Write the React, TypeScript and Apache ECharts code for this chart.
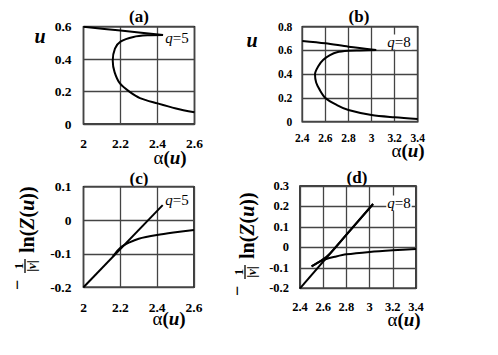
import React, { useEffect, useRef } from "react";
import * as echarts from "echarts";

// Panel (a): u vs alpha(u), q=5
const aUpper: number[][] = [[2.0, 0.6], [2.2, 0.576], [2.43, 0.549]];
const aLower: number[][] = [
  [2.43, 0.549], [2.35, 0.547], [2.27, 0.537], [2.2, 0.508], [2.17, 0.465],
  [2.158, 0.39], [2.168, 0.32], [2.197, 0.25], [2.25, 0.198], [2.305, 0.16],
  [2.4, 0.127], [2.5, 0.096], [2.6, 0.072],
];
// Panel (b): u vs alpha(u), q=8
const bUpper: number[][] = [[2.4, 0.68], [2.6, 0.66], [2.8, 0.632], [3.04, 0.604]];
const bLower: number[][] = [
  [3.04, 0.604], [2.9, 0.6], [2.8, 0.597], [2.7, 0.585], [2.64, 0.56],
  [2.58, 0.52], [2.54, 0.47], [2.51, 0.4], [2.52, 0.33], [2.55, 0.27],
  [2.6, 0.2], [2.7, 0.14], [2.8, 0.098], [3.0, 0.056], [3.2, 0.037], [3.4, 0.023],
];
// Panel (c): -(1/|v|) ln Z(u) vs alpha(u), q=5
const cLine: number[][] = [[2.0, -0.2], [2.43, 0.045]];
const cCurve: number[][] = [
  [2.16, -0.108], [2.2, -0.082], [2.25, -0.066], [2.3, -0.055],
  [2.4, -0.044], [2.5, -0.036], [2.6, -0.029],
];
// Panel (d): q=8
const dLine: number[][] = [[2.4, -0.2], [3.03, 0.212]];
const dReturn: number[][] = [[3.03, 0.212], [2.8, 0.062], [2.65, -0.035], [2.58, -0.066], [2.5, -0.093]];
const dCurve: number[][] = [
  [2.5, -0.093], [2.56, -0.072], [2.62, -0.058], [2.7, -0.046], [2.8, -0.034],
  [3.0, -0.022], [3.2, -0.014], [3.4, -0.008],
];

// Axis ranges [min, max, interval]
const xRanges = [[2, 2.6, 0.2], [2.4, 3.4, 0.2], [2, 2.6, 0.2], [2.4, 3.4, 0.2]];
const yRanges = [[0, 0.6, 0.2], [0, 0.8, 0.2], [-0.2, 0.1, 0.1], [-0.2, 0.3, 0.1]];
const panelTitles = ["(a)", "(b)", "(c)", "(d)"];
const qLabels = ["5", "8", "5", "8"];

const SERIF = "'Liberation Serif', 'Times New Roman', serif";

export default function App() {
  const ref = useRef<HTMLDivElement>(null);
  useEffect(() => {
    if (!ref.current) return;
    const chart = echarts.init(ref.current, undefined, { renderer: "svg" });

    const grids = [
      { left: 83.5, top: 26.7, width: 111, height: 97.3 },
      { left: 302.3, top: 26.7, width: 115.4, height: 95 },
      { left: 83.5, top: 186.7, width: 110.5, height: 100.6 },
      { left: 300, top: 186, width: 116, height: 102.3 },
    ];
    const labelFont = [13.5, 11.5, 13.5, 12.5];
    const xMargins = [12, 10, 13, 12];
    const yMargins = [12, 10, 12, 11];

    const xAxis = xRanges.map((r, i) => ({
      type: "value", gridIndex: i, min: r[0], max: r[1], interval: r[2],
      axisLine: { show: false }, axisTick: { show: false },
      splitLine: { show: true, lineStyle: { color: "#444", width: 1.3 } },
      axisLabel: { color: "#000", fontFamily: SERIF, fontWeight: "bold", fontSize: labelFont[i], margin: xMargins[i], showMinLabel: true, showMaxLabel: true },
    }));
    const yAxis = yRanges.map((r, i) => ({
      type: "value", gridIndex: i, min: r[0], max: r[1], interval: r[2],
      axisLine: { show: false }, axisTick: { show: false },
      splitLine: { show: true, lineStyle: { color: "#444", width: 1.3 } },
      axisLabel: { color: "#000", fontFamily: SERIF, fontWeight: "bold", fontSize: labelFont[i], margin: yMargins[i], showMinLabel: true, showMaxLabel: true },
    }));

    const mk = (data: number[][], idx: number) => ({
      type: "line", xAxisIndex: idx, yAxisIndex: idx, data,
      symbol: "none", showSymbol: false, smooth: 0.3,
      lineStyle: { color: "#000", width: 2 },
    });
    const series = [
      mk(aUpper, 0), mk(aLower, 0),
      mk(bUpper, 1), mk(bLower, 1),
      { ...mk(cLine, 2), smooth: false }, mk(cCurve, 2),
      { ...mk(dLine, 3), smooth: false }, mk(dReturn, 3), mk(dCurve, 3),
    ];

    const titlePos = [[139, 16], [359, 16], [139, 178], [357, 177]];
    const alphaPos = [[170, 157], [408, 150], [169, 318], [404, 319]];
    const qPos = [[177, 38], [399, 42], [177, 200], [399, 203]];
    const uPos = [[40, 36], [252, 40]];
    const fracPos = [[25, 236], [245, 242]];

    const graphic: any[] = [];
    titlePos.forEach((p, i) => graphic.push({
      type: "text", x: p[0], y: p[1],
      style: { text: panelTitles[i], fontFamily: SERIF, fontWeight: "bold", fontSize: 17, fill: "#000", textAlign: "center", textVerticalAlign: "middle" },
    }));
    alphaPos.forEach((p) => graphic.push({
      type: "text", x: p[0], y: p[1],
      style: {
        text: "{a|α}{b|(}{i|u}{b|)}", textAlign: "center", textVerticalAlign: "middle", fill: "#000",
        rich: {
          a: { fontFamily: SERIF, fontSize: 19, fill: "#000" },
          b: { fontFamily: SERIF, fontSize: 19, fontWeight: "bold", fill: "#000" },
          i: { fontFamily: SERIF, fontSize: 19, fontWeight: "bold", fontStyle: "italic", fill: "#000" },
        },
      },
    }));
    qPos.forEach((p, i) => graphic.push({
      type: "text", x: p[0], y: p[1], z: 100,
      style: {
        text: "{i|q}{r|=" + qLabels[i] + "}", textAlign: "center", textVerticalAlign: "middle",
        backgroundColor: "#fff", padding: [0, 1], fill: "#000",
        rich: {
          i: { fontFamily: SERIF, fontSize: 15, fontStyle: "italic", fill: "#000" },
          r: { fontFamily: SERIF, fontSize: 15, fill: "#000" },
        },
      },
    }));
    uPos.forEach((p) => graphic.push({
      type: "text", x: p[0], y: p[1],
      style: { text: "u", fontFamily: SERIF, fontWeight: "bold", fontStyle: "italic", fontSize: 20, fill: "#000", textAlign: "center", textVerticalAlign: "middle" },
    }));
    fracPos.forEach((p) => graphic.push({
      type: "group", x: p[0], y: p[1], rotation: Math.PI / 2,
      children: [
        { type: "text", x: -54, y: -8, style: { text: "−", fontFamily: SERIF, fontWeight: "bold", fontSize: 18, fill: "#000", textAlign: "left", textVerticalAlign: "middle" } },
        { type: "text", x: -30, y: -6.5, style: { text: "1", fontFamily: SERIF, fontWeight: "bold", fontSize: 13, fill: "#000", textAlign: "center", textVerticalAlign: "middle" } },
        { type: "line", shape: { x1: -37, y1: 0, x2: -23, y2: 0 }, style: { stroke: "#000", lineWidth: 1.3 } },
        {
          type: "text", x: -30, y: 6.5,
          style: {
            text: "{b||}{i|v}{b||}", textAlign: "center", textVerticalAlign: "middle", fill: "#000",
            rich: {
              b: { fontFamily: SERIF, fontSize: 13, fontWeight: "bold", fill: "#000" },
              i: { fontFamily: SERIF, fontSize: 13, fontWeight: "bold", fontStyle: "italic", fill: "#000" },
            },
          },
        },
        {
          type: "text", x: -17, y: 2,
          style: {
            text: "{b|ln(}{i|Z}{b|(}{i|u}{b|))}", textAlign: "left", textVerticalAlign: "middle", fill: "#000",
            rich: {
              b: { fontFamily: SERIF, fontSize: 20, fontWeight: "bold", fill: "#000" },
              i: { fontFamily: SERIF, fontSize: 20, fontWeight: "bold", fontStyle: "italic", fill: "#000" },
            },
          },
        },
      ],
    }));

    chart.setOption({
      animation: false,
      backgroundColor: "#fff",
      grid: grids.map((g) => ({ ...g, show: true, borderColor: "#000", borderWidth: 1.5, backgroundColor: "transparent" })),
      xAxis, yAxis, series, graphic,
    });
    return () => chart.dispose();
  }, []);
  return <div ref={ref} style={{ position: "fixed", left: 0, top: 0, width: 498, height: 355 }} />;
}
